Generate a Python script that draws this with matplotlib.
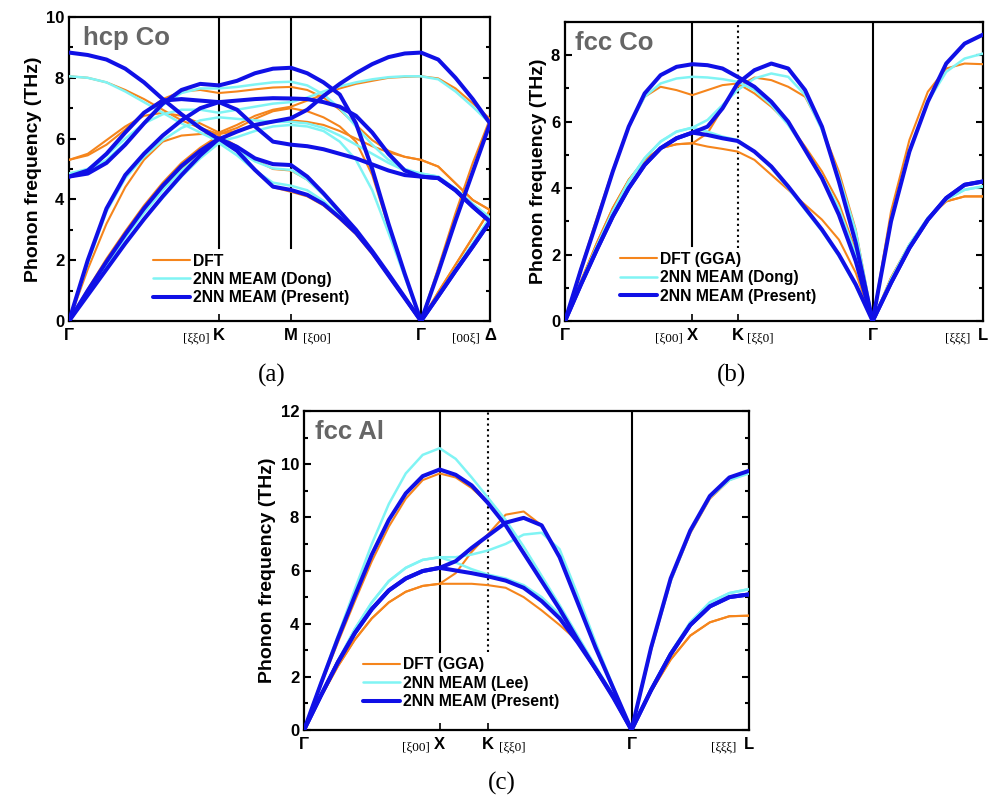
import numpy as np
import matplotlib
matplotlib.use('Agg')
import matplotlib.pyplot as plt
from matplotlib.ticker import MultipleLocator

plt.rcParams['font.family'] = ['Liberation Sans', 'DejaVu Sans']

# ---------------- (a) hcp Co : G - K - M - G - Delta ----------------
hcp_kpts = [0.0, 1.0, 1.48, 2.347, 2.807]
hcp_npts = [9, 5, 9, 5]
hcp_labels = ['Γ', 'K', 'M', 'Γ', 'Δ']

hcp_dft = [
    [8.05, 8.0, 7.85, 7.6, 7.3, 6.95, 6.6, 6.35, 6.15, 6.25, 6.4, 6.55, 6.6,
     6.55, 6.45, 6.25, 6.0, 5.75, 5.55, 5.4, 5.3, 5.08, 4.53, 3.98, 3.65],
    [5.3, 5.5, 5.95, 6.4, 6.75, 6.85, 6.75, 6.5, 6.2, 6.45, 6.75, 6.95, 7.05,
     7.25, 7.45, 7.65, 7.8, 7.9, 8.0, 8.03, 8.05, 7.98, 7.65, 7.16, 6.65],
    [5.3, 5.45, 5.8, 6.3, 6.85, 7.3, 7.55, 7.6, 7.5, 7.55, 7.62, 7.68, 7.7,
     7.6, 7.35, 6.95, 6.45, 5.95, 5.6, 5.4, 5.3, 5.08, 4.53, 3.98, 3.65],
    [0, 1.7, 3.2, 4.4, 5.3, 5.9, 6.1, 6.15, 6.15, 6.35, 6.65, 6.9, 7.0,
     6.9, 6.7, 6.4, 5.9, 4.8, 3.1, 1.5, 0, 1.75, 3.55, 5.2, 6.65],
    [0, 0.95, 1.9, 2.8, 3.6, 4.35, 5.0, 5.6, 6.1, 5.6, 4.95, 4.4, 4.25,
     4.1, 3.8, 3.35, 2.85, 2.2, 1.48, 0.74, 0, 0.95, 1.85, 2.75, 3.65],
    [0, 1.05, 2.05, 2.95, 3.8, 4.55, 5.2, 5.7, 6.1, 5.75, 5.3, 5.0, 4.95,
     4.65, 4.15, 3.55, 2.95, 2.25, 1.5, 0.75, 0, 0.95, 1.85, 2.75, 3.65],
]
hcp_dong = [
    [8.05, 8.0, 7.85, 7.55, 7.2, 6.85, 6.5, 6.2, 5.9, 6.05, 6.25, 6.4, 6.45,
     6.4, 6.25, 5.9, 5.3, 4.3, 2.9, 1.45, 0, 1.65, 3.3, 4.9, 6.5],
    [4.85, 4.95, 5.3, 5.85, 6.5, 7.1, 7.5, 7.65, 7.65, 7.7, 7.78, 7.85, 7.87,
     7.75, 7.45, 7.0, 6.4, 5.8, 5.3, 5.0, 4.85, 4.75, 4.35, 3.85, 3.4],
    [4.85, 5.0, 5.45, 6.0, 6.5, 6.8, 6.95, 6.95, 6.85, 6.95, 7.05, 7.15, 7.2,
     7.35, 7.55, 7.72, 7.85, 7.95, 8.02, 8.05, 8.05, 7.95, 7.55, 7.05, 6.5],
    [0, 1.9, 3.6, 4.7, 5.4, 5.95, 6.35, 6.6, 6.7, 6.65, 6.6, 6.55, 6.55,
     6.5, 6.35, 6.1, 5.8, 5.5, 5.2, 4.95, 4.85, 4.75, 4.35, 3.85, 3.4],
    [0, 0.85, 1.7, 2.55, 3.35, 4.05, 4.75, 5.35, 5.85, 5.45, 4.95, 4.55, 4.45,
     4.3, 3.95, 3.45, 2.9, 2.25, 1.5, 0.75, 0, 0.85, 1.7, 2.55, 3.4],
    [0, 0.95, 1.85, 2.75, 3.55, 4.3, 4.95, 5.45, 5.9, 5.6, 5.25, 5.02, 4.97,
     4.65, 4.15, 3.55, 2.95, 2.25, 1.5, 0.75, 0, 0.85, 1.7, 2.55, 3.4],
]
hcp_present = [
    [8.83, 8.75, 8.6, 8.3, 7.85, 7.3, 6.8, 6.35, 5.98, 6.23, 6.45, 6.56, 6.67,
     6.95, 7.4, 7.8, 8.15, 8.45, 8.68, 8.8, 8.83, 8.6, 8.0, 7.3, 6.5],
    [4.75, 4.85, 5.2, 5.8, 6.5, 7.15, 7.6, 7.8, 7.75, 7.9, 8.15, 8.3, 8.33,
     8.15, 7.85, 7.45, 6.5, 5.0, 3.2, 1.55, 0, 1.6, 3.3, 4.9, 6.5],
    [4.75, 4.95, 5.5, 6.2, 6.85, 7.25, 7.3, 7.25, 7.2, 7.25, 7.3, 7.33, 7.32,
     7.3, 7.2, 7.05, 6.75, 6.2, 5.5, 4.95, 4.75, 4.7, 4.3, 3.76, 3.27],
    [0, 2.0, 3.7, 4.8, 5.5, 6.1, 6.6, 7.0, 7.2, 6.95, 6.4, 5.9, 5.8,
     5.75, 5.65, 5.5, 5.35, 5.15, 4.95, 4.8, 4.75, 4.7, 4.3, 3.76, 3.27],
    [0, 0.85, 1.7, 2.55, 3.35, 4.1, 4.8, 5.45, 6.0, 5.6, 4.97, 4.42, 4.31,
     4.15, 3.85, 3.4, 2.9, 2.25, 1.5, 0.75, 0, 0.82, 1.65, 2.45, 3.27],
    [0, 1.0, 1.95, 2.85, 3.7, 4.45, 5.1, 5.6, 6.0, 5.73, 5.35, 5.16, 5.13,
     4.75, 4.2, 3.6, 3.0, 2.3, 1.55, 0.78, 0, 0.82, 1.65, 2.45, 3.27],
]

# ---------------- (b) fcc Co : G - X - K - G - L ----------------
fcc_kpts = [0.0, 1.0, 1.354, 2.414, 3.28]
fcc_npts = [9, 4, 9, 7]
fcc_labels = ['Γ', 'X', 'K', 'Γ', 'L']

co_dft = [
    [0, 1.6, 3.1, 4.55, 5.85, 6.75, 7.05, 6.95, 6.8, 6.95, 7.1, 7.15,
     6.85, 6.45, 5.95, 5.25, 4.5, 3.55, 2.1, 0, 3.3, 5.45, 6.9, 7.6, 7.75, 7.73],
    [0, 1.2, 2.35, 3.4, 4.25, 4.85, 5.2, 5.32, 5.35, 5.65, 6.4, 7.05,
     7.33, 7.25, 7.05, 6.75, 5.8, 4.5, 2.75, 0, 1.3, 2.3, 3.1, 3.6, 3.75, 3.75],
    [0, 1.2, 2.35, 3.4, 4.25, 4.85, 5.2, 5.32, 5.35, 5.25, 5.18, 5.1,
     4.85, 4.4, 3.95, 3.5, 3.05, 2.45, 1.45, 0, 1.3, 2.3, 3.1, 3.6, 3.75, 3.75],
]
co_dong = [
    [0, 1.55, 3.0, 4.5, 5.85, 6.75, 7.15, 7.3, 7.35, 7.33, 7.28, 7.2,
     6.95, 6.5, 5.9, 5.15, 4.35, 3.4, 2.0, 0, 3.05, 5.1, 6.6, 7.5, 7.9, 8.05],
    [0, 1.15, 2.25, 3.3, 4.2, 4.9, 5.4, 5.7, 5.82, 6.05, 6.5, 6.95,
     7.3, 7.45, 7.35, 6.8, 5.75, 4.35, 2.7, 0, 1.25, 2.3, 3.1, 3.65, 3.95, 4.05],
    [0, 1.15, 2.25, 3.3, 4.2, 4.9, 5.4, 5.7, 5.82, 5.7, 5.55, 5.45,
     5.1, 4.6, 4.0, 3.35, 2.7, 1.95, 1.05, 0, 1.25, 2.3, 3.1, 3.65, 3.95, 4.05],
]
co_present = [
    [0, 1.55, 3.0, 4.5, 5.85, 6.85, 7.4, 7.65, 7.73, 7.7, 7.6, 7.35,
     7.05, 6.6, 6.0, 5.15, 4.3, 3.2, 1.8, 0, 3.0, 5.1, 6.6, 7.75, 8.35, 8.62],
    [0, 1.1, 2.15, 3.15, 4.0, 4.7, 5.2, 5.5, 5.67, 5.85, 6.4, 7.15,
     7.55, 7.75, 7.6, 6.95, 5.85, 4.2, 2.35, 0, 1.15, 2.2, 3.05, 3.7, 4.1, 4.2],
    [0, 1.1, 2.15, 3.15, 4.0, 4.7, 5.2, 5.5, 5.67, 5.6, 5.5, 5.42,
     5.1, 4.65, 4.05, 3.4, 2.75, 2.0, 1.1, 0, 1.15, 2.2, 3.05, 3.7, 4.1, 4.2],
]

# ---------------- (c) fcc Al : G - X - K - G - L ----------------
al_dft = [
    [0, 1.7, 3.3, 4.85, 6.35, 7.65, 8.7, 9.4, 9.65, 9.5, 9.1, 8.55,
     7.7, 6.7, 5.65, 4.55, 3.45, 2.35, 1.2, 0, 3.0, 5.6, 7.4, 8.7, 9.4, 9.7],
    [0, 1.25, 2.4, 3.4, 4.2, 4.8, 5.2, 5.42, 5.5, 5.9, 6.7, 7.35,
     8.1, 8.22, 7.7, 6.5, 4.85, 3.1, 1.5, 0, 1.45, 2.65, 3.55, 4.05, 4.28, 4.3],
    [0, 1.25, 2.4, 3.4, 4.2, 4.8, 5.2, 5.42, 5.5, 5.5, 5.5, 5.45,
     5.35, 5.0, 4.5, 3.95, 3.35, 2.3, 1.2, 0, 1.45, 2.65, 3.55, 4.05, 4.28, 4.3],
]
al_lee = [
    [0, 1.8, 3.55, 5.3, 7.0, 8.5, 9.65, 10.35, 10.6, 10.2, 9.5, 8.75,
     7.9, 6.9, 5.8, 4.7, 3.55, 2.4, 1.2, 0, 3.05, 5.6, 7.45, 8.75, 9.4, 9.65],
    [0, 1.3, 2.6, 3.8, 4.8, 5.6, 6.1, 6.4, 6.5, 6.5, 6.6, 6.75,
     7.0, 7.35, 7.42, 6.8, 5.1, 3.3, 1.6, 0, 1.55, 2.9, 4.05, 4.8, 5.15, 5.3],
    [0, 1.3, 2.6, 3.8, 4.8, 5.6, 6.1, 6.4, 6.5, 6.3, 6.05, 5.85,
     5.7, 5.45, 5.0, 4.35, 3.45, 2.4, 1.3, 0, 1.55, 2.9, 4.05, 4.8, 5.15, 5.3],
]
al_present = [
    [0, 1.75, 3.45, 5.05, 6.6, 7.9, 8.9, 9.55, 9.8, 9.6, 9.2, 8.55,
     7.7, 6.65, 5.6, 4.55, 3.4, 2.3, 1.2, 0, 3.1, 5.7, 7.5, 8.8, 9.5, 9.75],
    [0, 1.3, 2.55, 3.65, 4.55, 5.25, 5.7, 5.98, 6.1, 6.35, 6.85, 7.3,
     7.8, 7.98, 7.7, 6.5, 4.8, 3.1, 1.55, 0, 1.5, 2.85, 3.95, 4.65, 5.0, 5.1],
    [0, 1.3, 2.55, 3.65, 4.55, 5.25, 5.7, 5.98, 6.1, 6.0, 5.9, 5.78,
     5.62, 5.35, 4.85, 4.2, 3.3, 2.3, 1.25, 0, 1.5, 2.85, 3.95, 4.65, 5.0, 5.1],
]

c_dft = '#F5851C'
c_ref = '#80F4F4'
c_new = '#1010E6'
W, H = 1007, 797
serif = ['Liberation Serif', 'DejaVu Serif']


def kpath(kpts, npts):
    segs = [np.linspace(kpts[i], kpts[i + 1], npts[i]) for i in range(len(npts))]
    return np.concatenate([segs[0]] + [s[1:] for s in segs[1:]])


def panel(box, kpts, npts, labels, sets, names, ymax, title, title_xy,
          vlines, brackets, leg_xy):
    l, t, r, b = box
    ax = fig.add_axes([l / W, 1 - b / H, (r - l) / W, (b - t) / H])
    k = kpath(kpts, npts)
    styles = [(c_dft, 1.5), (c_ref, 1.8), (c_new, 2.9)]
    for data, name, (col, lw) in zip(sets, names, styles):
        for i, br in enumerate(data):
            ax.plot(k, br, color=col, lw=lw, solid_capstyle='round',
                    solid_joinstyle='round',
                    label=name if i == 0 else None, zorder=3)
    for x, y0, ls in vlines:
        ax.plot([kpts[x], kpts[x]], [y0, ymax], color='black', lw=1.5, ls=ls, zorder=2)
    ax.set_xlim(kpts[0], kpts[-1])
    ax.set_ylim(0, ymax)
    ax.set_xticks(kpts)
    ax.set_xticklabels(labels, fontsize=12, fontweight='bold')
    ax.yaxis.set_major_locator(MultipleLocator(2))
    ax.yaxis.set_minor_locator(MultipleLocator(1))
    ax.tick_params(axis='y', which='both', direction='in', left=True, right=True,
                   labelsize=12, width=1.5)
    ax.tick_params(axis='y', which='major', length=5)
    ax.tick_params(axis='y', which='minor', length=3)
    ax.tick_params(axis='x', direction='in', length=5, width=1.2, pad=5)
    for lab in ax.get_yticklabels():
        lab.set_fontweight('bold')
    for s in ax.spines.values():
        s.set_linewidth(1.6)
    ax.set_ylabel('Phonon frequency (THz)', fontsize=14, fontweight='bold', labelpad=3)
    ax.text(title_xy[0], title_xy[1], title, transform=ax.transAxes, fontsize=18.5,
            fontweight='bold', color='#666666', va='center', ha='left')
    for x, txt, dx in brackets:
        ax.annotate(txt, xy=(kpts[x], 0), xycoords=('data', 'axes fraction'),
                    xytext=(dx, -12.5), textcoords='offset points',
                    ha='right' if dx < 0 else 'left', va='center',
                    fontsize=9.5, family=serif)
    ax.legend(loc='upper left', bbox_to_anchor=leg_xy, frameon=False,
              prop={'weight': 'bold', 'size': 11.3}, handlelength=2.36,
              handletextpad=0.2, labelspacing=0.22, borderpad=0, borderaxespad=0)
    return ax


fig = plt.figure(figsize=(W / 100, H / 100), dpi=100)

panel((69, 17, 490, 321), hcp_kpts, hcp_npts, hcp_labels,
      [hcp_dft, hcp_dong, hcp_present],
      ['DFT', '2NN MEAM (Dong)', '2NN MEAM (Present)'], 10, 'hcp Co', (0.033, 0.93),
      [(1, 2.4, '-'), (2, 2.4, '-'), (3, 0, '-')],
      [(1, '[ξξ0]', -7), (2, '[ξ00]', 9), (4, '[00ξ]', -7)], (0.2, 0.222))

panel((565, 22, 983, 321), fcc_kpts, fcc_npts, fcc_labels,
      [co_dft, co_dong, co_present],
      ['DFT (GGA)', '2NN MEAM (Dong)', '2NN MEAM (Present)'], 9, 'fcc Co', (0.024, 0.93),
      [(1, 2.25, '-'), (2, 2.2, ':'), (3, 0, '-')],
      [(1, '[ξ00]', -7), (2, '[ξξ0]', 7), (4, '[ξξξ]', -9)], (0.132, 0.232))

panel((304, 411, 749, 730), fcc_kpts, fcc_npts, fcc_labels,
      [al_dft, al_lee, al_present],
      ['DFT (GGA)', '2NN MEAM (Lee)', '2NN MEAM (Present)'], 12, 'fcc Al', (0.025, 0.934),
      [(1, 2.93, '-'), (2, 2.93, ':'), (3, 0, '-')],
      [(1, '[ξ00]', -7), (2, '[ξξ0]', 8), (4, '[ξξξ]', -9)], (0.133, 0.228))

for txt, x, y in [('(a)', 272, 375), ('(b)', 732, 375), ('(c)', 502, 783)]:
    fig.text(x / W, 1 - y / H, txt, ha='center', va='center', fontsize=18, family=serif)

fig.savefig('out.png', dpi=100)
